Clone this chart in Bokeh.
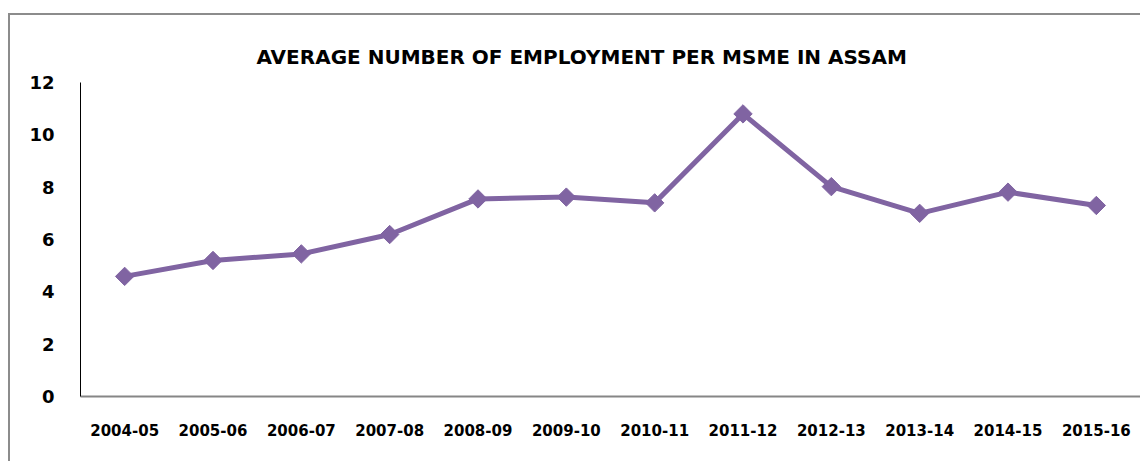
import numpy as np
from bokeh.plotting import figure
from bokeh.layouts import column
from bokeh.models import Range1d
from bokeh.embed import file_html
from bokeh.resources import INLINE

years = ["2004-05", "2005-06", "2006-07", "2007-08", "2008-09", "2009-10",
         "2010-11", "2011-12", "2012-13", "2013-14", "2014-15", "2015-16"]
avg_employment = [4.59, 5.20, 5.45, 6.19, 7.55, 7.62, 7.40, 10.80, 8.02, 7.00, 7.81, 7.30]
y_ticks = [0, 2, 4, 6, 8, 10, 12]

FONT = "DejaVu Sans"
PURPLE = "#8064A2"

p = figure(width=1130, height=446, x_range=years, y_range=Range1d(0, 12),
           output_backend="svg", toolbar_location=None,
           title="AVERAGE NUMBER OF EMPLOYMENT PER MSME IN ASSAM",
           min_border_left=70, min_border_right=0, min_border_top=67,
           min_border_bottom=65)

p.title.align = "left"
p.title.text_font = FONT
p.title.text_font_style = "bold"
p.title.text_font_size = "20px"
p.title.text_color = "#000000"
p.title.offset = 176
p.title.standoff = 28

p.outline_line_color = None
p.xgrid.grid_line_color = None
p.ygrid.grid_line_color = None
p.background_fill_color = "white"
p.border_fill_color = "white"

# y axis
p.yaxis.ticker = y_ticks
p.yaxis.axis_line_color = "black"
p.yaxis.axis_line_width = 1
p.yaxis.major_tick_line_color = None
p.yaxis.minor_tick_line_color = None
p.yaxis.major_tick_out = 0
p.yaxis.major_tick_in = 0
p.yaxis.major_label_standoff = 26
p.yaxis.major_label_text_font = FONT
p.yaxis.major_label_text_font_style = "bold"
p.yaxis.major_label_text_font_size = "18px"
p.yaxis.major_label_text_color = "black"

# x axis
p.xaxis.axis_line_color = "#868686"
p.xaxis.axis_line_width = 2
p.xaxis.major_tick_line_color = None
p.xaxis.minor_tick_line_color = None
p.xaxis.major_tick_out = 0
p.xaxis.major_tick_in = 0
p.xaxis.major_label_standoff = 27
p.xaxis.major_label_text_font = FONT
p.xaxis.major_label_text_font_style = "bold"
p.xaxis.major_label_text_font_size = "15px"
p.xaxis.major_label_text_color = "black"

p.line(years, avg_employment, line_color=PURPLE, line_width=5)
p.scatter(years, avg_employment, marker="square", angle=np.pi / 4, size=13,
          fill_color=PURPLE, line_color=PURPLE)

layout = column(p, margin=(13, 0, 0, 8),
                styles={"border-left": "2px solid #8c8c8c",
                        "border-top": "2px solid #8c8c8c"})

open("out.html", "w").write(file_html(layout, INLINE))
